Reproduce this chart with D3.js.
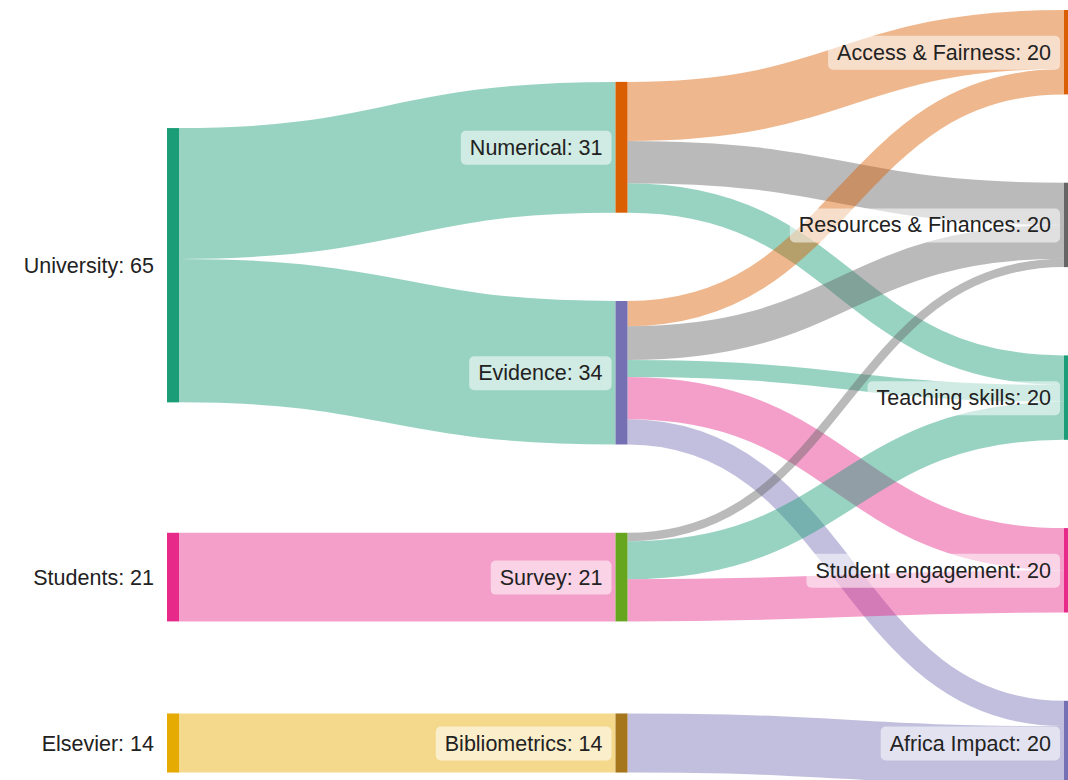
<!DOCTYPE html>
<html>
<head>
<meta charset="utf-8">
<script src="https://cdn.jsdelivr.net/npm/d3@7"></script>
<style>
  body { margin: 0; background: #fff; }
  svg { display: block; font-family: "Liberation Sans", Arial, Helvetica, sans-serif; }
</style>
</head>
<body>
<svg id="chart" width="1068" height="780"></svg>
<script>
// nodes, in column order
const nodeNames = ["University", "Students", "Elsevier",
  "Numerical", "Evidence", "Survey", "Bibliometrics",
  "Access & Fairness", "Resources & Finances", "Teaching skills", "Student engagement", "Africa Impact"];
const nodeColors = ["#1b9e77", "#e7298a", "#e6ab02",
  "#d95f02", "#7570b3", "#66a61e", "#a6761d",
  "#d95f02", "#666666", "#1b9e77", "#e7298a", "#7570b3"];

// flows
const linkSources = ["University", "University", "Students", "Elsevier",
  "Numerical", "Numerical", "Numerical",
  "Evidence", "Evidence", "Evidence", "Evidence", "Evidence",
  "Survey", "Survey", "Survey", "Bibliometrics"];
const linkTargets = ["Numerical", "Evidence", "Survey", "Bibliometrics",
  "Access & Fairness", "Resources & Finances", "Teaching skills",
  "Access & Fairness", "Resources & Finances", "Teaching skills", "Student engagement", "Africa Impact",
  "Resources & Finances", "Teaching skills", "Student engagement", "Africa Impact"];
const linkValues = [31, 34, 21, 14,
  14, 10, 7,
  6, 8, 4, 10, 6,
  2, 9, 10, 14];

// sankey layout: last column stacked, earlier columns pulled to the
// value-weighted centre of their targets, overlaps pooled into blocks
function sankey(nodes, links, o) {
  const byName = new Map(nodes.map(n => [n.name, n]));
  nodes.forEach((n, i) => { n.index = i; n.sourceLinks = []; n.targetLinks = []; });
  links.forEach((l, i) => {
    l.index = i;
    l.source = byName.get(l.source); l.target = byName.get(l.target);
    l.source.sourceLinks.push(l); l.target.targetLinks.push(l);
  });
  nodes.forEach(n => n.value = Math.max(d3.sum(n.sourceLinks, l => l.value), d3.sum(n.targetLinks, l => l.value)));

  let current = new Set(nodes), next = new Set(), depth = 0;
  while (current.size) {
    for (const n of current) { n.layer = depth; for (const l of n.sourceLinks) next.add(l.target); }
    depth++; current = next; next = new Set();
  }
  const x = d3.scaleLinear().domain([0, depth - 1]).range([o.x0, o.x1 - o.nodeWidth]);
  nodes.forEach(n => { n.x0 = x(n.layer); n.x1 = n.x0 + o.nodeWidth; });
  const columns = d3.range(depth).map(d => nodes.filter(n => n.layer === d));

  const py = Math.min(o.nodePadding, (o.y1 - o.y0) / (d3.max(columns, c => c.length) - 1));
  const ky = d3.min(columns, c => (o.y1 - o.y0 - (c.length - 1) * py) / d3.sum(c, n => n.value));
  nodes.forEach(n => n.h = n.value * ky);
  links.forEach(l => l.width = l.value * ky);
  const mid = n => n.y0 + n.h / 2;

  // last column: plain stack, spare room spread evenly
  const last = columns[depth - 1];
  let y = o.y0;
  last.forEach(n => { n.y0 = y; y += n.h + py; });
  const spare = (o.y1 - y + py) / (last.length + 1);
  last.forEach((n, i) => n.y0 += spare * (i + 1));

  for (let c = depth - 2; c >= 0; --c) {
    const col = columns[c];
    col.forEach(n => {
      n.want = d3.sum(n.sourceLinks, l => mid(l.target) * l.value) / d3.sum(n.sourceLinks, l => l.value) - n.h / 2;
    });
    col.sort((a, b) => a.want - b.want);
    const blocks = [];
    for (const n of col) {
      let b = { nodes: [n] };
      fit(b);
      while (blocks.length) {
        const p = blocks[blocks.length - 1];
        if (p.t + p.span + py <= b.t) break;
        blocks.pop();
        b = { nodes: p.nodes.concat(b.nodes) };
        fit(b);
      }
      blocks.push(b);
    }
    blocks.forEach(b => b.nodes.forEach(n => n.y0 = b.t + n.off));
    // keep inside the extent
    let top = o.y0;
    col.forEach(n => { if (n.y0 < top) n.y0 = top; top = n.y0 + n.h + py; });
    let bottom = o.y1;
    col.slice().reverse().forEach(n => { if (n.y0 + n.h > bottom) n.y0 = bottom - n.h; bottom = n.y0 - py; });
  }
  function fit(b) {
    let off = 0;
    b.nodes.forEach(n => { n.off = off; off += n.h + py; });
    b.span = off - py;
    b.t = d3.sum(b.nodes, n => (n.want - n.off) * n.value) / d3.sum(b.nodes, n => n.value);
  }
  nodes.forEach(n => n.y1 = n.y0 + n.h);

  for (const n of nodes) {
    n.sourceLinks.sort((a, b) => a.target.y0 - b.target.y0);
    n.targetLinks.sort((a, b) => a.source.y0 - b.source.y0);
    let a = n.y0, b = n.y0;
    for (const l of n.sourceLinks) { l.y0 = a + l.width / 2; a += l.width; }
    for (const l of n.targetLinks) { l.y1 = b + l.width / 2; b += l.width; }
  }
  return { nodes, links };
}

const graph = sankey(
  nodeNames.map((name, i) => ({ name, color: nodeColors[i] })),
  linkSources.map((s, i) => ({ source: s, target: linkTargets[i], value: linkValues[i] })),
  { x0: 167, x1: 1076, y0: 10, y1: 785.2, nodeWidth: 12, nodePadding: 88.3 }
);

const svg = d3.select("#chart");

svg.append("g")
  .selectAll("path")
  .data(graph.links)
  .join("path")
  .attr("d", d3.linkHorizontal()
    .source(d => [d.source.x1, d.y0])
    .target(d => [d.target.x0, d.y1]))
  .attr("fill", "none")
  .attr("stroke", d => d.source.layer === 0 ? d.source.color : d.target.color)
  .attr("stroke-opacity", 0.45)
  .attr("stroke-width", d => Math.max(1, d.width));

svg.append("g")
  .selectAll("rect")
  .data(graph.nodes)
  .join("rect")
  .attr("x", d => d.x0)
  .attr("y", d => d.y0)
  .attr("width", d => d.x1 - d.x0)
  .attr("height", d => d.y1 - d.y0)
  .attr("fill", d => d.color);

const labels = svg.append("g")
  .selectAll("g")
  .data(graph.nodes)
  .join("g");

const boxes = labels.append("rect")
  .attr("fill", "#fff")
  .attr("fill-opacity", 0.55)
  .attr("rx", 5);

labels.append("text")
  .attr("x", d => d.x0 - 13)
  .attr("y", d => (d.y0 + d.y1) / 2)
  .attr("dy", "0.35em")
  .attr("text-anchor", "end")
  .attr("font-size", 21.5)
  .attr("fill", "#222")
  .text(d => `${d.name}: ${d.value}`)
  .each(function(d) { d.bb = this.getBBox(); });

boxes
  .attr("x", d => d.bb.x - 9)
  .attr("y", d => d.bb.y - 5)
  .attr("width", d => d.bb.width + 18)
  .attr("height", d => d.bb.height + 10);
</script>
</body>
</html>
